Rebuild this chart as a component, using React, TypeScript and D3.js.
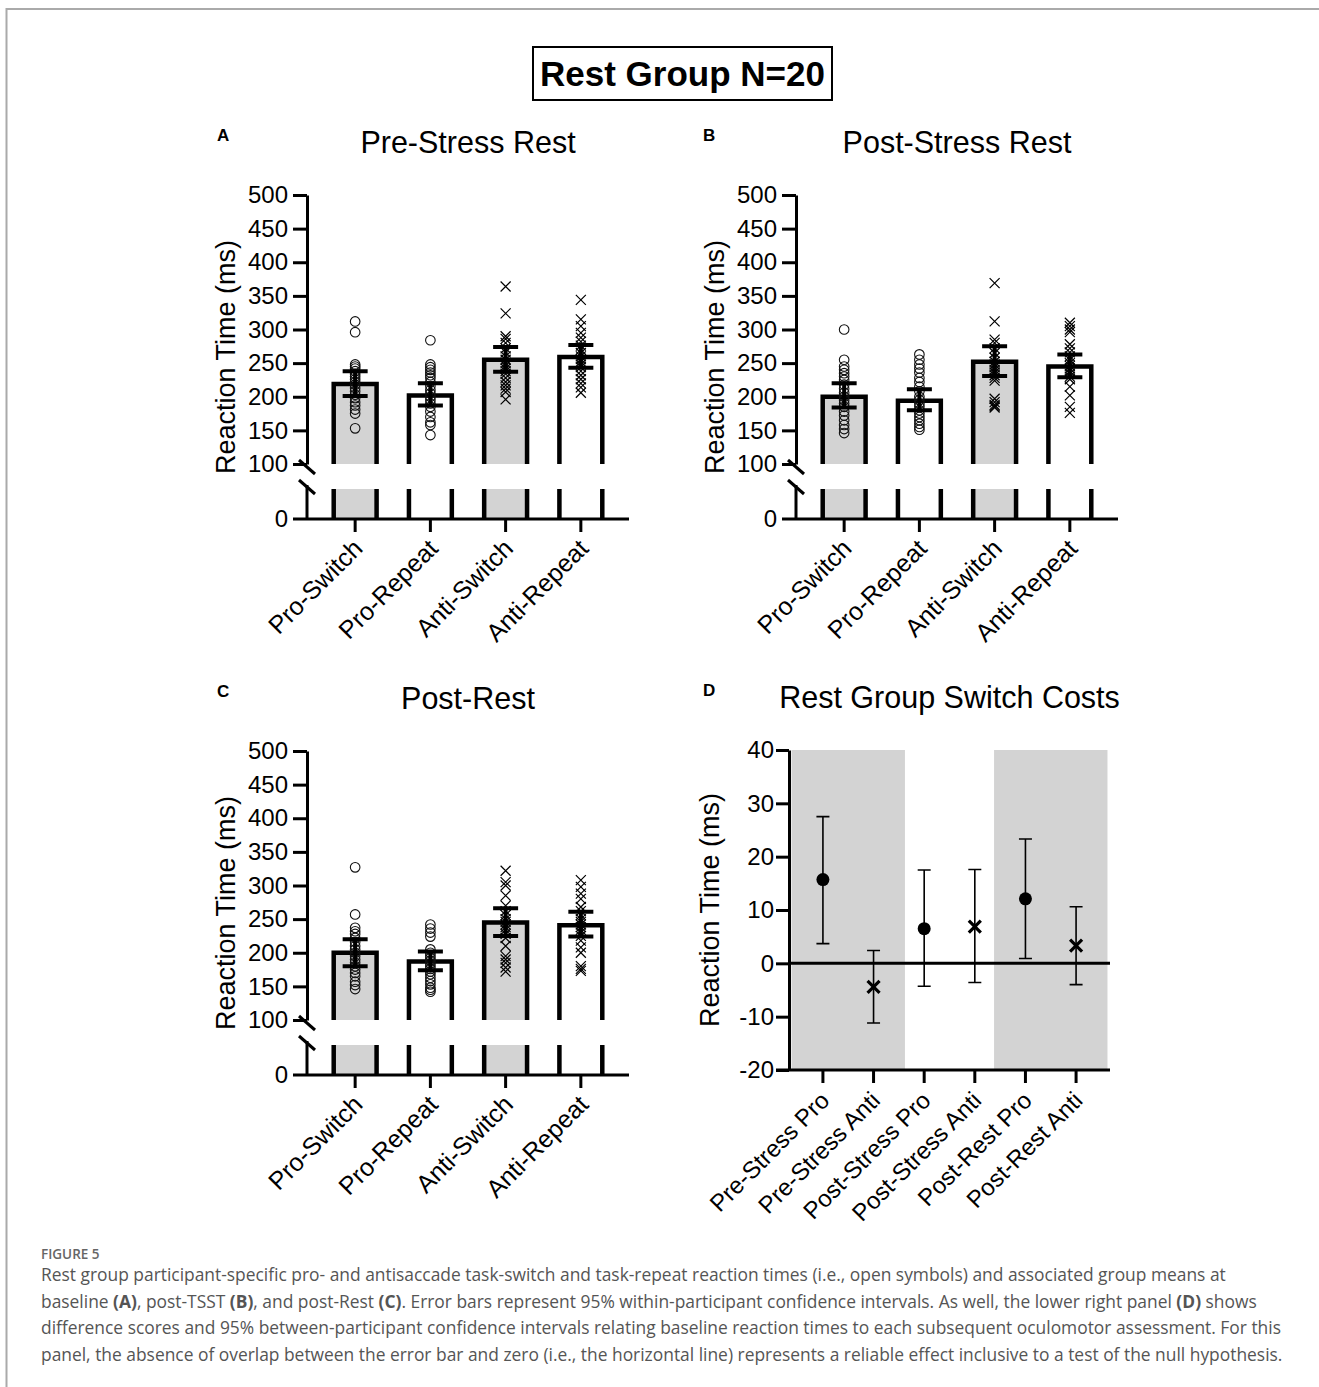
import React, { useRef, useEffect } from "react";
import * as d3 from "d3";

const FONT = "'Liberation Sans', Arial, sans-serif";
const CAPTION_FONT = "'Open Sans', 'Noto Sans', sans-serif";

const barCategories = ["Pro-Switch", "Pro-Repeat", "Anti-Switch", "Anti-Repeat"];
const barFills = ["#d3d3d3", "#ffffff", "#d3d3d3", "#ffffff"];
const barMarkers = ["circle", "circle", "cross", "cross"];
const barTicks = [100, 150, 200, 250, 300, 350, 400, 450, 500];

// A - pre-stress rest
const preMeans = [219, 202, 255, 259];
const preLow = [201, 187, 237, 243];
const preHigh = [238, 220, 274, 277];
const prePoints = [
  [312, 296, 248, 245, 242, 238, 234, 230, 226, 222, 218, 213, 208, 203, 198, 192, 187, 181, 175, 153],
  [284, 248, 244, 240, 236, 232, 228, 222, 216, 210, 205, 200, 195, 190, 185, 178, 170, 162, 158, 143],
  [364, 324, 290, 286, 280, 272, 266, 260, 255, 250, 246, 242, 238, 234, 228, 222, 217, 212, 207, 196],
  [344, 315, 305, 295, 288, 282, 276, 270, 265, 260, 256, 252, 248, 244, 238, 232, 226, 220, 214, 206],
];

// B - post-stress rest
const postStressMeans = [200, 194, 252, 245];
const postStressLow = [184, 180, 231, 229];
const postStressHigh = [220, 211, 275, 263];
const postStressPoints = [
  [300, 255, 245, 240, 235, 230, 225, 218, 212, 206, 200, 195, 190, 185, 178, 172, 165, 158, 152, 146],
  [263, 255, 248, 242, 236, 228, 222, 215, 208, 200, 195, 190, 185, 180, 175, 170, 165, 160, 155, 151],
  [369, 312, 285, 280, 272, 265, 258, 252, 248, 244, 240, 236, 232, 228, 224, 197, 192, 188, 186, 184],
  [310, 305, 300, 296, 278, 272, 266, 260, 255, 250, 246, 242, 238, 234, 230, 226, 215, 202, 185, 176],
];

// C - post-rest
const postRestMeans = [200, 187, 245, 241];
const postRestLow = [180, 174, 225, 224];
const postRestHigh = [220, 202, 266, 261];
const postRestPoints = [
  [327, 257, 237, 232, 228, 222, 216, 210, 205, 200, 195, 190, 185, 180, 175, 170, 165, 157, 152, 146],
  [242, 236, 230, 224, 205, 200, 196, 192, 188, 184, 180, 176, 172, 168, 163, 158, 153, 148, 145, 142],
  [322, 305, 300, 285, 270, 262, 256, 250, 246, 242, 238, 234, 228, 222, 210, 195, 190, 185, 178, 172],
  [308, 298, 288, 280, 268, 262, 256, 250, 246, 242, 238, 234, 230, 225, 218, 208, 200, 180, 176, 173],
];

// D - switch costs
const costCategories = [
  "Pre-Stress Pro",
  "Pre-Stress Anti",
  "Post-Stress Pro",
  "Post-Stress Anti",
  "Post-Rest Pro",
  "Post-Rest Anti",
];
const costMarkers = ["circle", "cross", "circle", "cross", "circle", "cross"];
const costMeans = [15.7, -4.4, 6.5, 6.9, 12.1, 3.3];
const costLow = [3.7, -11.2, -4.3, -3.6, 0.9, -4.0];
const costHigh = [27.5, 2.4, 17.5, 17.6, 23.3, 10.6];
const costTicks = [-20, -10, 0, 10, 20, 30, 40];
const shadedPairs = [
  ["Pre-Stress Pro", "Pre-Stress Anti"],
  ["Post-Rest Pro", "Post-Rest Anti"],
];

const captionLines = [
  [["Rest group participant-specific pro- and antisaccade task-switch and task-repeat reaction times (i.e., open symbols) and associated group means at", false]],
  [
    ["baseline ", false], ["(A)", true], [", post-TSST ", false], ["(B)", true],
    [", and post-Rest ", false], ["(C)", true],
    [". Error bars represent 95% within-participant confidence intervals. As well, the lower right panel ", false],
    ["(D)", true], [" shows", false],
  ],
  [["difference scores and 95% between-participant confidence intervals relating baseline reaction times to each subsequent oculomotor assessment. For this", false]],
  [["panel, the absence of overlap between the error bar and zero (i.e., the horizontal line) represents a reliable effect inclusive to a test of the null hypothesis.", false]],
];

const styleAxis = (g) => {
  g.selectAll("path").attr("stroke", "#000").attr("stroke-width", 3);
  g.selectAll("line").attr("stroke", "#000").attr("stroke-width", 3);
  g.selectAll("text").attr("font-family", FONT).attr("font-size", 24).attr("fill", "#000");
};

const drawCross = (g, cx, cy, r, width) => {
  g.append("path")
    .attr("d", `M${cx - r},${cy - r}L${cx + r},${cy + r}M${cx - r},${cy + r}L${cx + r},${cy - r}`)
    .attr("stroke", "#000")
    .attr("stroke-width", width)
    .attr("fill", "none");
};

const drawBarPanel = (root, opts) => {
  const { axisX, top, letter, letterX, title, means, low, high, points } = opts;
  const g = root.append("g");
  const y100 = top + 269;
  const y0 = y100 + 55;
  const axisEnd = axisX + 322;

  const yUp = d3.scaleLinear().domain([100, 500]).range([y100, top]);
  const yLow = d3.scaleLinear().domain([0, 45]).range([y0, y0 - 30]);
  const x = d3.scalePoint().domain(barCategories).range([axisX, axisEnd]).padding(0.64);
  const half = x.step() * 0.285;

  // bars: upper part from mean down to break, lower part from break to zero
  barCategories.forEach((c, i) => {
    const cx = x(c);
    g.append("path")
      .attr("d", `M${cx - half},${y100}V${yUp(means[i])}H${cx + half}V${y100}`)
      .attr("fill", barFills[i])
      .attr("stroke", "#000")
      .attr("stroke-width", 4.5);
    g.append("rect")
      .attr("x", cx - half)
      .attr("y", yLow(45))
      .attr("width", half * 2)
      .attr("height", yLow(0) - yLow(45))
      .attr("fill", barFills[i]);
    g.append("path")
      .attr("d", `M${cx - half},${yLow(45)}V${y0}M${cx + half},${yLow(45)}V${y0}`)
      .attr("stroke", "#000")
      .attr("stroke-width", 4.5);
  });

  // individual participants
  barCategories.forEach((c, i) => {
    const cx = x(c);
    points[i].forEach((v) => {
      if (barMarkers[i] === "circle") {
        g.append("circle")
          .attr("cx", cx)
          .attr("cy", yUp(v))
          .attr("r", 4.8)
          .attr("fill", "none")
          .attr("stroke", "#111")
          .attr("stroke-width", 1.1);
      } else {
        drawCross(g, cx, yUp(v), 5, 1.2);
      }
    });
  });

  // error bars
  barCategories.forEach((c, i) => {
    const cx = x(c);
    const cap = 12.5;
    g.append("path")
      .attr(
        "d",
        `M${cx},${yUp(low[i])}V${yUp(high[i])}M${cx - cap},${yUp(low[i])}H${cx + cap}M${cx - cap},${yUp(high[i])}H${cx + cap}`
      )
      .attr("stroke", "#000")
      .attr("stroke-width", 4)
      .attr("fill", "none");
  });

  // y axis, upper segment
  g.append("g")
    .attr("transform", `translate(${axisX},0)`)
    .call(d3.axisLeft(yUp).tickValues(barTicks).tickSize(14).tickSizeOuter(0).tickPadding(5))
    .call(styleAxis);

  // y axis, lower segment
  g.append("line")
    .attr("x1", axisX)
    .attr("x2", axisX)
    .attr("y1", y100 + 21)
    .attr("y2", y0)
    .attr("stroke", "#000")
    .attr("stroke-width", 3);
  g.append("text")
    .attr("x", axisX - 19)
    .attr("y", yLow(0))
    .attr("dy", "0.35em")
    .attr("text-anchor", "end")
    .attr("font-family", FONT)
    .attr("font-size", 24)
    .text("0");

  // break marks
  [-4, 16].forEach((off) => {
    g.append("line")
      .attr("x1", axisX - 8)
      .attr("y1", y100 + off)
      .attr("x2", axisX + 8)
      .attr("y2", y100 + off + 14)
      .attr("stroke", "#000")
      .attr("stroke-width", 3);
  });

  // x axis
  g.append("line")
    .attr("x1", axisX - 14)
    .attr("x2", axisEnd)
    .attr("y1", y0)
    .attr("y2", y0)
    .attr("stroke", "#000")
    .attr("stroke-width", 3);
  barCategories.forEach((c) => {
    g.append("line")
      .attr("x1", x(c))
      .attr("x2", x(c))
      .attr("y1", y0)
      .attr("y2", y0 + 13)
      .attr("stroke", "#000")
      .attr("stroke-width", 3);
    g.append("text")
      .attr("transform", `translate(${x(c) + 9},${y0 + 31}) rotate(-45)`)
      .attr("text-anchor", "end")
      .attr("font-family", FONT)
      .attr("font-size", 25)
      .text(c);
  });

  g.append("text")
    .attr("transform", `translate(${axisX - 72},${(top + y0) / 2}) rotate(-90)`)
    .attr("text-anchor", "middle")
    .attr("font-family", FONT)
    .attr("font-size", 27)
    .text("Reaction Time (ms)");

  g.append("text")
    .attr("x", (axisX + axisEnd) / 2)
    .attr("y", top - 42)
    .attr("text-anchor", "middle")
    .attr("font-family", FONT)
    .attr("font-size", 30.5)
    .text(title);

  g.append("text")
    .attr("x", letterX)
    .attr("y", top - 54)
    .attr("font-family", FONT)
    .attr("font-weight", "bold")
    .attr("font-size", 17)
    .text(letter);
};

const drawCostPanel = (root) => {
  const g = root.append("g");
  const axisX = 789;
  const axisEnd = 1110;
  const top = 750;
  const bottom = 1070;

  const y = d3.scaleLinear().domain([-20, 40]).range([bottom, top]);
  const x = d3.scalePoint().domain(costCategories).range([axisX, axisEnd]).padding(0.67);
  const pad = x.step() * 0.62;

  shadedPairs.forEach(([a, b]) => {
    const left = Math.max(axisX, x(a) - pad);
    const right = Math.min(axisEnd, x(b) + pad);
    g.append("rect")
      .attr("x", left)
      .attr("y", top)
      .attr("width", right - left)
      .attr("height", bottom - top)
      .attr("fill", "#d3d3d3");
  });

  g.append("line")
    .attr("x1", axisX)
    .attr("x2", axisEnd)
    .attr("y1", y(0))
    .attr("y2", y(0))
    .attr("stroke", "#000")
    .attr("stroke-width", 3);

  costCategories.forEach((c, i) => {
    const cx = x(c);
    const cap = 6.5;
    g.append("path")
      .attr(
        "d",
        `M${cx},${y(costLow[i])}V${y(costHigh[i])}M${cx - cap},${y(costLow[i])}H${cx + cap}M${cx - cap},${y(costHigh[i])}H${cx + cap}`
      )
      .attr("stroke", "#000")
      .attr("stroke-width", 1.6)
      .attr("fill", "none");
    if (costMarkers[i] === "circle") {
      g.append("circle").attr("cx", cx).attr("cy", y(costMeans[i])).attr("r", 6.5).attr("fill", "#000");
    } else {
      drawCross(g, cx, y(costMeans[i]), 6, 3.2);
    }
  });

  g.append("g")
    .attr("transform", `translate(${axisX},0)`)
    .call(
      d3
        .axisLeft(y)
        .tickValues(costTicks)
        .tickSize(13)
        .tickSizeOuter(0)
        .tickPadding(2)
        .tickFormat((d) => String(d))
    )
    .call(styleAxis);

  g.append("line")
    .attr("x1", axisX - 13)
    .attr("x2", axisEnd)
    .attr("y1", bottom)
    .attr("y2", bottom)
    .attr("stroke", "#000")
    .attr("stroke-width", 3);

  costCategories.forEach((c) => {
    g.append("line")
      .attr("x1", x(c))
      .attr("x2", x(c))
      .attr("y1", bottom)
      .attr("y2", bottom + 13)
      .attr("stroke", "#000")
      .attr("stroke-width", 3);
    g.append("text")
      .attr("transform", `translate(${x(c) + 8},${bottom + 32}) rotate(-45)`)
      .attr("text-anchor", "end")
      .attr("font-family", FONT)
      .attr("font-size", 24)
      .text(c);
  });

  g.append("text")
    .attr("transform", `translate(${axisX - 70},${(top + bottom) / 2}) rotate(-90)`)
    .attr("text-anchor", "middle")
    .attr("font-family", FONT)
    .attr("font-size", 27)
    .text("Reaction Time (ms)");

  g.append("text")
    .attr("x", (axisX + axisEnd) / 2)
    .attr("y", top - 42)
    .attr("text-anchor", "middle")
    .attr("font-family", FONT)
    .attr("font-size", 30.5)
    .text("Rest Group Switch Costs");

  g.append("text")
    .attr("x", 703)
    .attr("y", top - 54)
    .attr("font-family", FONT)
    .attr("font-weight", "bold")
    .attr("font-size", 17)
    .text("D");
};

const App = () => {
  const svgRef = useRef(null);

  useEffect(() => {
    const svg = d3.select(svgRef.current);
    svg.selectAll("*").remove();

    svg.append("rect").attr("width", 1319).attr("height", 1387).attr("fill", "#fff");

    // page frame
    svg.append("path")
      .attr("d", "M6.5,1387V9H1319")
      .attr("fill", "none")
      .attr("stroke", "#aaa")
      .attr("stroke-width", 2);

    // group title box
    svg.append("rect")
      .attr("x", 533)
      .attr("y", 47)
      .attr("width", 299)
      .attr("height", 53)
      .attr("fill", "none")
      .attr("stroke", "#000")
      .attr("stroke-width", 2);
    svg.append("text")
      .attr("x", 682.5)
      .attr("y", 86)
      .attr("text-anchor", "middle")
      .attr("font-family", FONT)
      .attr("font-weight", "bold")
      .attr("font-size", 35)
      .text("Rest Group N=20");

    drawBarPanel(svg, {
      axisX: 307, top: 195, letter: "A", letterX: 217, title: "Pre-Stress Rest",
      means: preMeans, low: preLow, high: preHigh, points: prePoints,
    });
    drawBarPanel(svg, {
      axisX: 796, top: 195, letter: "B", letterX: 703, title: "Post-Stress Rest",
      means: postStressMeans, low: postStressLow, high: postStressHigh, points: postStressPoints,
    });
    drawBarPanel(svg, {
      axisX: 307, top: 751, letter: "C", letterX: 217, title: "Post-Rest",
      means: postRestMeans, low: postRestLow, high: postRestHigh, points: postRestPoints,
    });
    drawCostPanel(svg);

    // caption
    svg.append("text")
      .attr("x", 41)
      .attr("y", 1259)
      .attr("font-family", CAPTION_FONT)
      .attr("font-weight", 600)
      .attr("font-size", 13.5)
      .attr("fill", "#666")
      .text("FIGURE 5");

    captionLines.forEach((segments, i) => {
      const t = svg.append("text")
        .attr("x", 41)
        .attr("y", 1281 + i * 26.5)
        .attr("font-family", CAPTION_FONT)
        .attr("font-size", 17.4)
        .attr("fill", "#555");
      segments.forEach(([s, bold]) => {
        t.append("tspan").attr("font-weight", bold ? 700 : 400).text(s);
      });
    });
  }, []);

  return (
    <svg
      ref={svgRef}
      width={1319}
      height={1387}
      style={{ position: "absolute", left: 0, top: 0, display: "block" }}
    />
  );
};

export default App;
